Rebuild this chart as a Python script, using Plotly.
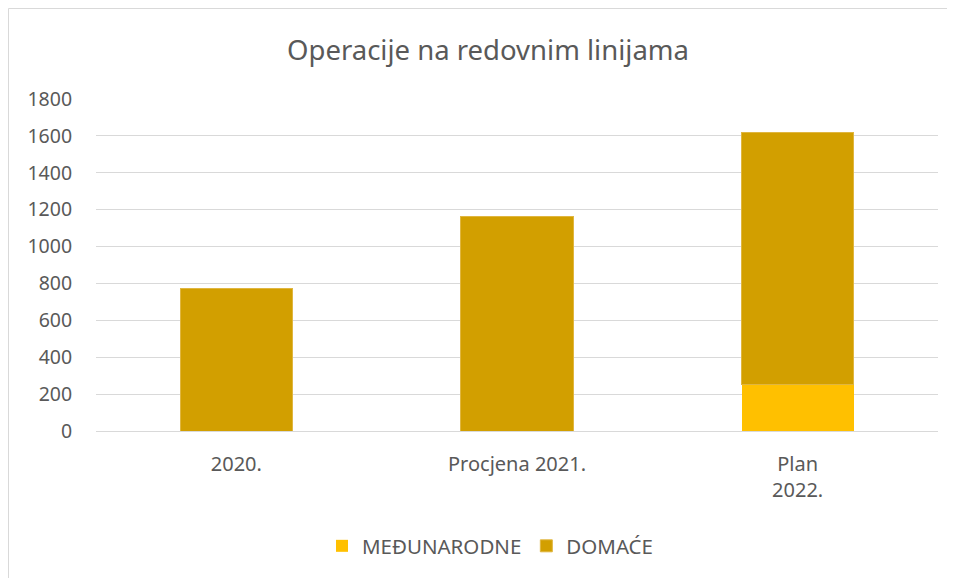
import plotly.graph_objects as go

categories = ["2020.", "Procjena 2021.", "Plan<br>2022."]
medjunarodne = [0, 0, 250]
domace = [775, 1165, 1370]

W, H = 955, 578
L, R, T, B = 88, 25, 91, 155
PW, PH = W - L - R, H - T - B

fig = go.Figure()
fig.add_trace(go.Bar(name="MEĐUNARODNE", x=categories, y=medjunarodne,
                     marker=dict(color="#FFC000", line=dict(width=0))))
fig.add_trace(go.Bar(name="DOMAĆE", x=categories, y=domace,
                     marker=dict(color="#D29F00", line=dict(width=1, color="#E0B640"))))

fig.update_layout(
    barmode="stack",
    bargap=0.6,
    width=W, height=H,
    margin=dict(l=L, r=R, t=T, b=B),
    paper_bgcolor="white", plot_bgcolor="white",
    font=dict(family="Noto Sans", color="#595959", size=19),
    title=dict(text="Operacije na redovnim linijama", x=480 / W, xref="container",
               y=1 - 42 / H, yref="container", xanchor="center", yanchor="middle",
               font=dict(size=27.5, color="#595959")),
    showlegend=True,
    legend=dict(orientation="h", x=482 / W, xref="container", xanchor="center",
                y=1 - 538 / H, yref="container", yanchor="middle",
                font=dict(size=20.5, color="#595959"), traceorder="normal"),
    xaxis=dict(showgrid=False, showline=True, linecolor="#D9D9D9", linewidth=1,
               ticks="outside", ticklen=15, tickcolor="rgba(0,0,0,0)",
               tickfont=dict(size=20)),
    yaxis=dict(range=[0, 1800], dtick=200, showgrid=True, gridcolor="#D9D9D9",
               gridwidth=1, zeroline=False, ticks="outside", ticklen=19,
               tickcolor="rgba(0,0,0,0)", tickfont=dict(size=19.5)),
    shapes=[dict(type="rect", xref="paper", yref="paper",
                 x0=(0.5 - L) / PW, x1=1.2, y0=-0.6, y1=1 + (T - 0.5) / PH,
                 line=dict(color="#D9D9D9", width=1), fillcolor="rgba(0,0,0,0)",
                 layer="below")],
)

fig.write_html("out.html")
